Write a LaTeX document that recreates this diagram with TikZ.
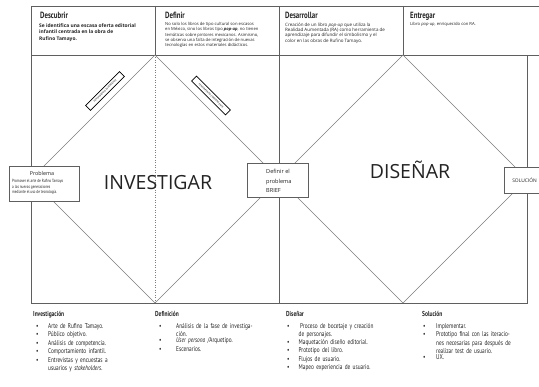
\documentclass[tikz,border=0pt]{standalone}
\usepackage{fontspec}
\setmainfont{Open Sans}
\newfontfamily\condensed[FakeStretch=0.76]{PT Sans}
\definecolor{framegray}{RGB}{95,95,95}
\definecolor{edgegray}{RGB}{125,125,125}
\definecolor{inkgray}{RGB}{35,35,35}

% bullet entries for the lists under the diamonds
\newlength{\entryindent}
\newcommand{\entry}[1]{\par\noindent\makebox[\entryindent][l]{\textbullet}\parbox[t]{115pt}{#1}}

\tikzset{
  frame/.style={draw=framegray, line width=0.6pt},
  edge/.style={draw=edgegray, line width=0.45pt},
  infobox/.style={draw=framegray, fill=white, line width=0.6pt, inner sep=0pt},
  tag/.style={draw=black, fill=white, line width=0.7pt, minimum width=48pt, minimum height=7pt,
    inner sep=0pt, font=\fontsize{2.4}{2.6}\selectfont},
  phase/.style={anchor=base west, inner sep=0pt, text=inkgray, font=\condensed\bfseries\fontsize{9}{10}\selectfont},
  brief/.style={anchor=north west, inner sep=0pt, align=left, text=inkgray},
  coltitle/.style={anchor=base west, inner sep=0pt, text=inkgray, font=\condensed\bfseries\fontsize{7.2}{8}\selectfont},
  collist/.style={anchor=north west, inner sep=0pt, text width=130pt, align=left, text=inkgray,
    font=\condensed\fontsize{7}{8.5}\selectfont},
  bigword/.style={anchor=base, inner sep=0pt, text=inkgray, font=\fontsize{19.5}{20}\selectfont}
}

\begin{document}
\begin{tikzpicture}[x=1pt,y=-1pt]
\path[use as bounding box, clip] (0,0) rectangle (539,387);

% header row and outer frame
\draw[frame] (539,6) -- (31,6) -- (31,303) -- (527,303) -- (527,55);
\draw[frame] (31,55) -- (539,55);
\foreach \x in {155,279,403}
  \draw[frame] (\x,6) -- (\x,55);
\draw[frame] (279,55) -- (279,303);
\draw[edgegray, line width=0.5pt, dotted] (155,55) -- (155,303);

% double diamond
\coordinate (invtop) at (155,55);
\coordinate (invleft) at (31,179);
\coordinate (invbot) at (155,303);
\coordinate (mid) at (279,179);
\coordinate (distop) at (403,55);
\coordinate (disbot) at (403,303);
\coordinate (disright) at (527,179);
\draw[edge] (invtop) -- (invleft) -- (invbot) -- (mid) -- cycle;
\draw[edge] (distop) -- (mid) -- (disbot) -- (disright) -- cycle;

\node[tag, rotate=45] (divergente) at (105,91) {PENSAMIENTO DIVERGENTE};
\node[tag, rotate=-45] (convergente) at (211,95.5) {PENSAMIENTO CONVERGENTE};

% header texts
\node[phase] (descubrir) at (40,19) {Descubrir};
\node[brief, font=\bfseries\fontsize{4.9}{6.5}\selectfont] (descubrirtxt) at (39,23.5)
  {Se identifica una escasa oferta editorial\\infantil centrada en la obra de\\Rufino Tamayo.};
\node[phase] (definir) at (165,19) {Definir};
\node[brief, font=\fontsize{4.2}{5.1}\selectfont] (definirtxt) at (165,22.5)
  {No solo los libros de tipo cultural son escasos\\en México, sino los libros tipo \textbf{\textit{pop-up}}, no tienen\\temáticas sobre pintores mexicanos. Asimismo,\\se observa una falta de integración de nuevas\\tecnologías en estos materiales didácticos.};
\node[phase] (desarrollar) at (285,19) {Desarrollar};
\node[brief, font=\fontsize{4.5}{5.3}\selectfont] (desarrollartxt) at (285,22.5)
  {Creación de un libro \textit{pop-up} que utiliza la\\Realidad Aumentada (RA) como herramienta de\\aprendizaje para difundir el simbolismo y el\\color en las obras de Rufino Tamayo.};
\node[phase] (entregar) at (410,19) {Entregar};
\node[brief, font=\fontsize{4.2}{5.1}\selectfont] (entregartxt) at (410,22.5)
  {Libro \textit{pop-up}, enriquecido con RA.};

% big phase words
\node[bigword] (investigar) at (158,190) {INVESTIGAR};
\node[bigword] (disenar) at (410,179) {DISEÑAR};

% boxes on the vertices
\node[infobox, minimum width=70pt, minimum height=35pt] (problema) at (44,183.5) {};
\node[anchor=base, inner sep=0pt, text=inkgray, font=\fontsize{5.4}{6}\selectfont] (problematit) at (42,175.5) {Problema};
\node[brief, font=\condensed\fontsize{4.5}{5.5}\selectfont] (problematxt) at (12,179.5)
  {Promover el arte de Rufino Tamayo\\a las nuevas generaciones\\mediante el uso de tecnología.};

\node[infobox, minimum width=61pt, minimum height=34pt] (brief) at (277.5,180) {};
\node[brief, font=\fontsize{5.6}{9.3}\selectfont] (brieftxt) at (266,169.5)
  {Definir el\\problema\\BRIEF};

\node[infobox, anchor=west, minimum height=26pt, inner xsep=8pt, text=inkgray,
  font=\fontsize{4.9}{6}\selectfont] (solucion) at (504,180) {SOLUCIÓN};

% lists under the frame
\node[coltitle] (investigacion) at (33,317) {Investigación};
\node[collist] (investigacionlst) at (36,319.6) {\setlength{\entryindent}{12pt}%
  \entry{Arte de Rufino Tamayo.}
  \entry{Público objetivo.}
  \entry{Análisis de competencia.}
  \entry{Comportamiento infantil.}
  \entry{Entrevistas y encuestas a\\usuarios y \textit{stakeholders}.}};

\node[coltitle] (definicion) at (155,317) {Definición};
\node[collist] (definicionlst) at (159,319.6) {\setlength{\entryindent}{17pt}%
  \entry{Análisis de la fase de investiga-\\ción.}
  \entry{\textit{User persona} /Arquetipo.}
  \entry{Escenarios.}};

\node[coltitle] (disenarcol) at (286,317) {Diseñar};
\node[collist] (disenarlst) at (287,319.6) {\setlength{\entryindent}{11.5pt}%
  \entry{\hspace{1.5pt}Proceso de bocetaje y creación\\de personajes.}
  \entry{Maquetación diseño editorial.}
  \entry{Prototipo del libro.}
  \entry{Flujos de usuario.}
  \entry{Mapeo experiencia de usuario.}};

\node[coltitle] (solucioncol) at (422,317) {Solución};
\node[collist] (solucionlst) at (423,319.6) {\setlength{\entryindent}{13pt}%
  \entry{Implementar.}
  \entry{Prototipo final con las iteracio-\\nes necesarias para después de\\realizar test de usuario.}
  \entry{UX.}};
\end{tikzpicture}
\end{document}
